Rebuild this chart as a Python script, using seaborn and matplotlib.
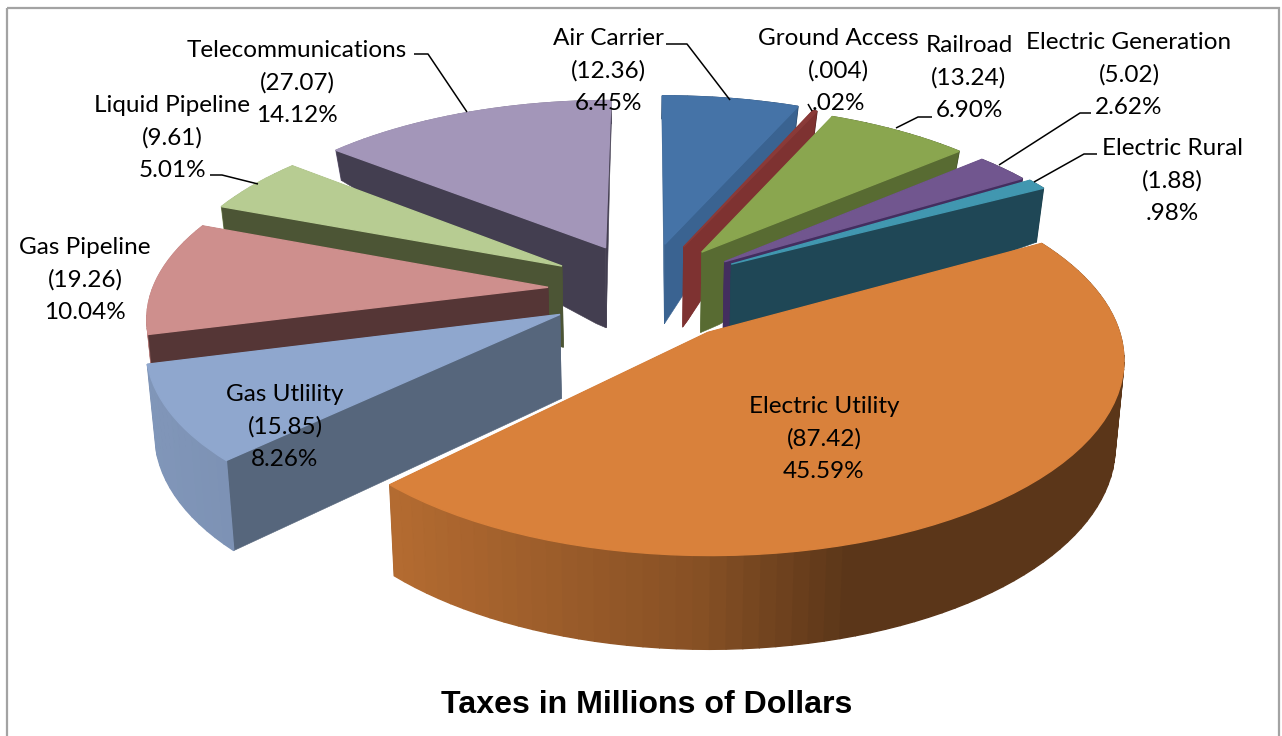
import numpy as np
import matplotlib
matplotlib.use("Agg")
import matplotlib.pyplot as plt
from matplotlib.patches import Rectangle
from matplotlib.transforms import Transform
import seaborn as sns

# DATA
categories = ['Air Carrier', 'Ground Access', 'Railroad', 'Electric Generation', 'Electric Rural',
              'Electric Utility', 'Gas Utlility', 'Gas Pipeline', 'Liquid Pipeline', 'Telecommunications']
tax_labels = ['(12.36)', '(.004)', '(13.24)', '(5.02)', '(1.88)', '(87.42)', '(15.85)', '(19.26)', '(9.61)', '(27.07)']
pct_labels = ['6.45%', '.02%', '6.90%', '2.62%', '.98%', '45.59%', '8.26%', '10.04%', '5.01%', '14.12%']
# slice sizes as drawn: the Ground Access sliver is drawn wider than its .004 label
drawn_sizes = [12.36, 0.4, 13.24, 5.02, 1.88, 87.42, 15.85, 19.26, 9.61, 27.07]

# STYLE
top_colors = ['#4573A7', '#8A3A38', '#8AA64F', '#71568F', '#4197B0', '#D9813B', '#8FA7CE', '#CE8F8D', '#B7CC92', '#A396B9']
wall_colors = ['#3A6391', '#7E3231', '#586B32', '#432E5F', '#1F4756', '#6B3F1D', '#56667C', '#553636', '#4C5535', '#433E50']
radii = [0.955, 0.94, 0.93, 0.93, 0.93, 0.945, 0.95, 0.94, 0.94, 0.94]
nudge_x = [4, 2, 0, 0, 0, 2, 15, 15, 13, 10]
nudge_y = [0, 0, 0, 0, -2, 3, 0, 0, 0, 0]
shear = [0, 0, 0, 0, 0, -5, 0, 0, 0, 0]
draw_order = [9, 8, 7, 6, 0, 1, 2, 3, 4, 5]   # back to front
rim_last = [5, 6]   # slices whose rim sits in front of their cut faces
label_xy = [(608, 71), (838, 71), (969, 78), (1129, 75), (1172, 181), (824, 439), (285, 427), (85, 280), (172, 138), (297, 83)]
line_pitch = 32.5
leaders = [[(666, 44), (687, 44), (730, 100)],
           [(808, 104), (812, 111)],
           [(932, 117), (918, 117), (896, 128)],
           [(1091, 113), (1080, 113), (999, 165)],
           [(1097, 154), (1084, 154), (1034, 182)],
           [(210, 175), (222, 175), (258, 184)],
           [(414, 54), (428, 54), (467, 112)]]
depth_at_y = ([100, 150, 186, 245, 330, 560], [23, 30, 53, 80, 85, 94])
shade_at_x = ([140, 390, 550, 700, 850, 1125], [0.9, 0.83, 0.72, 0.62, 0.42, 0.42])

sns.set_theme(style="white")
plt.rcParams['font.family'] = ['Lato', 'DejaVu Sans']


class PieProjection(Transform):
    """tilted pie plane -> pixels of the picture"""
    input_dims = 2
    output_dims = 2
    is_separable = False
    has_inverse = False

    def __init__(self, dx=0, dy=0, shear=0):
        super().__init__()
        self.dx = dx
        self.dy = dy
        self.shear = shear

    def transform_non_affine(self, values):
        x, y = np.asarray(values).T
        w = 1 + 0.148 * y
        return np.column_stack((640 + self.dx + 421 * x / w, self.dy + self.shear * x + (290 - 147 * y) / w))


def hang_down(top):
    # hang the top edge down by the depth at that height
    depth = np.interp(top[:, 1], *depth_at_y)
    return top + np.column_stack(((640 - top[:, 0]) * 0.018, depth))


def draw_rim(wedge, proj, color, z):
    cx, cy = wedge.center
    t1, t2 = np.radians(wedge.theta1), np.radians(wedge.theta2)
    n = max(3, int(np.degrees(t2 - t1) / 2))
    angles = np.linspace(t1, t2, n + 1)
    top = proj.transform(np.column_stack((cx + wedge.r * np.cos(angles), cy + wedge.r * np.sin(angles))))
    low = hang_down(top)
    base = np.array(matplotlib.colors.to_rgb(color))
    for k in range(n):
        shade = tuple(base * np.interp(top[k:k + 2, 0].mean(), *shade_at_x))
        ax.fill([top[k, 0], top[k + 1, 0], low[k + 1, 0], low[k, 0]],
                [top[k, 1], top[k + 1, 1], low[k + 1, 1], low[k, 1]],
                facecolor=shade, edgecolor=shade, lw=1.0, zorder=z)


def draw_cut_faces(wedge, proj, color, z):
    cx, cy = wedge.center
    for t in np.radians([wedge.theta1, wedge.theta2]):
        s = np.linspace(0, wedge.r, 30)
        top = proj.transform(np.column_stack((cx + s * np.cos(t), cy + s * np.sin(t))))
        low = hang_down(top)
        ax.fill(np.r_[top[:, 0], low[::-1, 0]], np.r_[top[:, 1], low[::-1, 1]],
                facecolor=color, edgecolor=color, lw=0.4, zorder=z)


fig = plt.figure(figsize=(12.82, 7.36), dpi=100)
ax = fig.add_axes([0, 0, 1, 1])

wedges, _ = ax.pie(drawn_sizes, explode=[0.255] * len(drawn_sizes), colors=top_colors, startangle=90,
                   counterclock=False, radius=0.955)
ax.set_aspect('auto')
ax.set_xlim(0, 1282)
ax.set_ylim(736, 0)

z = 2
for i in draw_order:
    wedge = wedges[i]
    wedge.set_radius(radii[i])
    wedge.set_edgecolor(top_colors[i])
    wedge.set_linewidth(1.0)
    proj = PieProjection(nudge_x[i], nudge_y[i], shear[i])

    if i in rim_last:
        draw_cut_faces(wedge, proj, wall_colors[i], z)
        draw_rim(wedge, proj, top_colors[i], z + 0.1)
    else:
        draw_rim(wedge, proj, top_colors[i], z)
        draw_cut_faces(wedge, proj, wall_colors[i], z + 0.1)

    wedge.set_transform(proj + ax.transData)
    wedge.set_zorder(z + 0.5)
    z += 1

for (x, y), name, tax, pct in zip(label_xy, categories, tax_labels, pct_labels):
    for k, line in enumerate((name, tax, pct)):
        ax.text(x, y + (k - 1) * line_pitch, line, ha='center', va='center', fontsize=17.5,
                color='black', zorder=30)

for pts in leaders:
    xs, ys = zip(*pts)
    ax.plot(xs, ys, color='black', lw=1.1, zorder=31, solid_capstyle='butt')

ax.text(647, 705, "Taxes in Millions of Dollars", ha='center', va='center', fontsize=23.1,
        fontweight='bold', family=['Liberation Sans', 'DejaVu Sans'], color='black', zorder=30)

ax.add_patch(Rectangle((7, 8), 1272, 760, fill=False, edgecolor='#A3A3A3', lw=1.6, clip_on=True, zorder=1))

fig.savefig('out.png', dpi=100, facecolor='white')
